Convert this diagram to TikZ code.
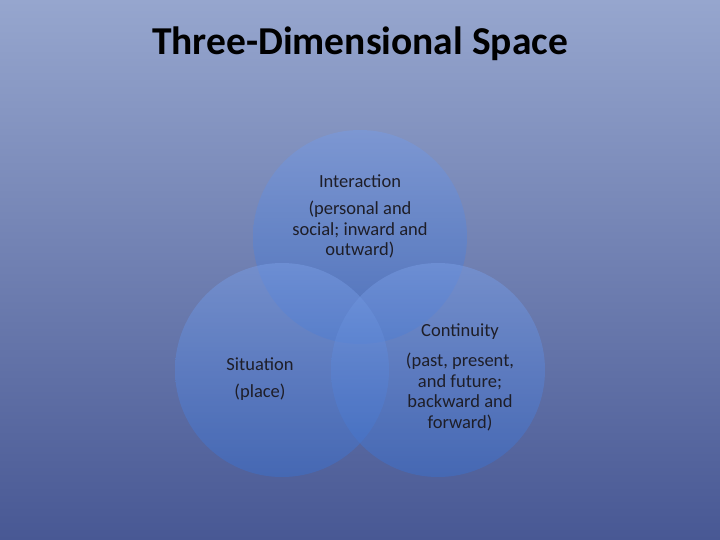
\documentclass[tikz,border=0pt]{standalone}
\usepackage{fontspec}
\setmainfont{Carlito}
\definecolor{bgtop}{RGB}{150,166,206}
\definecolor{bgbot}{RGB}{72,88,148}
\definecolor{ctop}{RGB}{120,155,225}
\definecolor{cbot}{RGB}{60,110,200}
\definecolor{txt}{RGB}{30,30,40}
\begin{document}
\begin{tikzpicture}[x=1pt,y=-1pt,
  circ/.style={top color=ctop,bottom color=cbot,fill opacity=0.55,draw=none},
  lbl/.style={text=txt,font=\fontsize{18.5}{20.5}\selectfont,align=center}]
\shade[top color=bgtop,bottom color=bgbot] (0,0) rectangle (720,540);
\useasboundingbox (0,0) rectangle (720,540);
\node[text=black,font=\fontsize{39.5}{44}\selectfont\bfseries] (title) at (360,44) {Three-Dimensional Space};
\path[circ] (360,237) circle (107);
\path[circ] (282,370) circle (107);
\path[circ] (438,370) circle (107);
\node[lbl] (i1) at (360,181) {Interaction};
\node[lbl] (i2) at (360,230) {(personal and\\social; inward and\\outward)};
\node[lbl] (c1) at (460,332) {Continuity};
\node[lbl] (c2) at (460,392) {(past, present,\\and future;\\backward and\\forward)};
\node[lbl] (s1) at (260,364) {Situation};
\node[lbl] (s2) at (260,392) {(place)};
\end{tikzpicture}
\end{document}
